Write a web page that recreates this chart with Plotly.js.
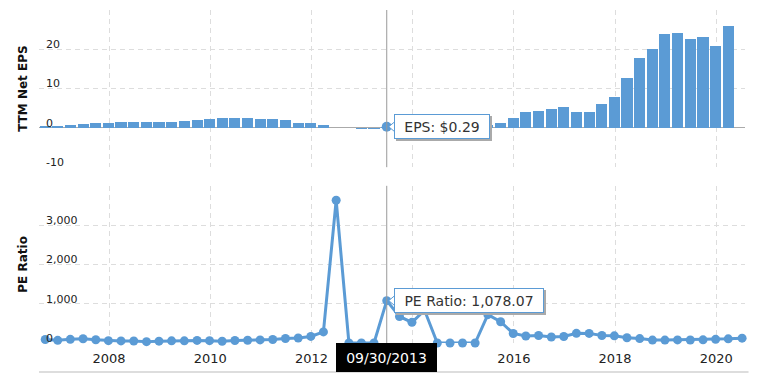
<!DOCTYPE html>
<html>
<head>
<meta charset="utf-8">
<script src="https://cdn.plot.ly/plotly-3.0.1.min.js"></script>
<style>html,body{margin:0;padding:0;background:#fff;}#chart{width:765px;height:373px;}</style>
</head>
<body>
<div id="chart"></div>
<script>
// Quarter-end dates of the TTM EPS bars
const epsDates = [
  '2006-12-31',
  '2007-03-31','2007-06-30','2007-09-30','2007-12-31',
  '2008-03-31','2008-06-30','2008-09-30','2008-12-31',
  '2009-03-31','2009-06-30','2009-09-30','2009-12-31',
  '2010-03-31','2010-06-30','2010-09-30','2010-12-31',
  '2011-03-31','2011-06-30','2011-09-30','2011-12-31',
  '2012-03-31','2012-06-30','2012-09-30','2012-12-31',
  '2013-03-31','2013-06-30','2013-09-30','2013-12-31',
  '2014-03-31','2014-06-30','2014-09-30','2014-12-31',
  '2015-03-31','2015-06-30','2015-09-30','2015-12-31',
  '2016-03-31','2016-06-30','2016-09-30','2016-12-31',
  '2017-03-31','2017-06-30','2017-09-30','2017-12-31',
  '2018-03-31','2018-06-30','2018-09-30','2018-12-31',
  '2019-03-31','2019-06-30','2019-09-30','2019-12-31',
  '2020-03-31','2020-06-30'
];
// TTM Net EPS values
const epsValues = [
  0.45,
  0.59, 0.73, 0.87, 1.12,
  1.20, 1.38, 1.46, 1.49,
  1.56, 1.51, 1.69, 2.04,
  2.29, 2.42, 2.48, 2.53,
  2.31, 2.27, 1.90, 1.37,
  1.21, 0.81, 0.07, -0.09,
  -0.19, -0.22, 0.29, 0.59,
  0.64, 0.39, -0.47, -0.52,
  -0.87, -0.41, 0.71, 1.25,
  2.44, 4.03, 4.38, 4.90,
  5.31, 3.93, 3.93, 6.15,
  7.94, 12.61, 17.84, 20.14,
  23.96, 24.11, 22.59, 23.01,
  20.93, 26.01
];
// PE ratio: same quarters plus the latest date
const latestDate = '2020-10-08';
const peDates = epsDates.concat([latestDate]);
const peValues = [
  87.69,
  67.44, 93.71, 107.07, 82.71,
  59.42, 53.14, 49.84, 34.42,
  47.08, 55.40, 55.24, 65.94,
  59.29, 45.15, 63.33, 71.15,
  77.98, 90.08, 113.81, 126.35,
  167.36, 281.91, 3633.14, 0,
  0, 0, 1078.07, 675.92,
  525.58, 832.77, 0, 0,
  0, 0, 720.97, 540.71,
  243.30, 177.57, 191.17, 153.03,
  166.96, 246.31, 244.62, 190.16,
  182.28, 134.80, 112.28, 74.58,
  74.32, 78.54, 76.85, 80.31,
  93.16, 106.07,
  122.86
];
// Axis ticks
const xTickVals = ['2008-04-05','2010-04-05','2012-04-05','2014-04-05','2016-04-05','2018-04-05','2020-04-05'];
const xTickText = ['2008','2010','2012','2014','2016','2018','2020'];
const epsTickVals = [-10, 0, 10, 20, 30];
const epsTickText = ['-10', '0', '10', '20', ''];
const peTickVals = [0, 1000, 2000, 3000, 4000];
const peTickText = ['0', '1,000', '2,000', '3,000', ''];
// Highlighted (hovered) quarter
const hoverDate = '2013-09-30';

const BLUE = '#5b9bd5';
const GRID = '#dddddd';
const DASH = '5px,4px';
const FONT = 'DejaVu Sans, Verdana, sans-serif';
const DAY = 86400000;

const hi = epsDates.indexOf(hoverDate);
const hiEps = epsValues[hi];
const hiPe = peValues[peDates.indexOf(hoverDate)];
const dp = hoverDate.split('-');
const dateLabel = dp[1] + '/' + dp[2] + '/' + dp[0];
const peLabel = 'PE Ratio: ' + hiPe.toLocaleString('en-US', {minimumFractionDigits: 2, maximumFractionDigits: 2});
const epsLabel = 'EPS: $' + hiEps.toFixed(2);

const traces = [
  {type: 'bar', x: epsDates, y: epsValues, xaxis: 'x', yaxis: 'y',
   marker: {color: BLUE, line: {width: 0}}, width: 80 * DAY, hoverinfo: 'skip'},
  {type: 'scatter', mode: 'markers', x: [hoverDate], y: [hiEps], xaxis: 'x', yaxis: 'y',
   marker: {color: BLUE, size: 10}, cliponaxis: false, hoverinfo: 'skip'},
  {type: 'scatter', mode: 'lines+markers', x: peDates, y: peValues, xaxis: 'x2', yaxis: 'y2',
   line: {color: BLUE, width: 3}, marker: {color: BLUE, size: 9}, cliponaxis: false, hoverinfo: 'skip'}
];

const xCommon = {
  type: 'date', range: ['2006-11-16', '2020-10-29'],
  tickmode: 'array', tickvals: xTickVals, ticktext: xTickText,
  showgrid: true, gridcolor: GRID, griddash: DASH, gridwidth: 1,
  zeroline: false, showline: false, ticks: '', fixedrange: true
};

function tip(xref, yref, yv, text, w, shadow) {
  return {
    xref: xref, yref: yref, x: hoverDate, y: yv, xanchor: 'left', yanchor: 'middle',
    xshift: shadow ? 9 : 7, yshift: shadow ? -2 : 0, showarrow: false,
    text: text, align: 'center', width: w, height: 18, borderpad: 2.5,
    borderwidth: 1, bordercolor: shadow ? '#aaaaaa' : BLUE,
    bgcolor: shadow ? '#aaaaaa' : '#ffffff',
    font: {family: FONT, size: 14, color: shadow ? 'rgba(0,0,0,0)' : '#333333'}
  };
}

function notch(xref, yref, yv) {
  return {type: 'path', xref: xref, yref: yref, xsizemode: 'pixel', ysizemode: 'pixel',
    xanchor: hoverDate, yanchor: yv, path: 'M 8,-5 L 2,0 L 8,5 Z',
    fillcolor: '#ffffff', line: {color: BLUE, width: 1}, layer: 'above'};
}

const yCommon = {
  tickmode: 'array', ticklabelposition: 'inside', ticklabelshift: -5, ticklabelstandoff: 4,
  ticklabeloverflow: 'allow', ticks: '',
  tickfont: {family: FONT, size: 11, color: '#222222'},
  showgrid: true, gridcolor: GRID, griddash: DASH, showline: false, fixedrange: true
};

const layout = {
  width: 765, height: 373,
  margin: {l: 39, r: 20, t: 10, b: 30},
  paper_bgcolor: '#ffffff', plot_bgcolor: '#ffffff',
  showlegend: false, hovermode: false, bargap: 0,
  font: {family: FONT, color: '#333333'},
  xaxis: Object.assign({}, xCommon, {anchor: 'y', showticklabels: false}),
  xaxis2: Object.assign({}, xCommon, {anchor: 'y2', matches: 'x', showticklabels: true,
    ticklabelstandoff: 6, tickfont: {family: FONT, size: 13, color: '#222222'}}),
  yaxis: Object.assign({}, yCommon, {
    domain: [0.528, 1], range: [-10, 30], tickvals: epsTickVals, ticktext: epsTickText,
    zeroline: true, zerolinecolor: '#aaaaaa', zerolinewidth: 1,
    title: {text: 'TTM Net EPS', standoff: 15, font: {family: FONT, size: 12, color: '#111111', weight: 'bold'}}
  }),
  yaxis2: Object.assign({}, yCommon, {
    domain: [0, 0.472], range: [0, 4000], tickvals: peTickVals, ticktext: peTickText,
    zeroline: false,
    title: {text: 'PE Ratio', standoff: 15, font: {family: FONT, size: 12, color: '#111111', weight: 'bold'}}
  }),
  shapes: [
    {type: 'line', xref: 'x', yref: 'y domain', x0: hoverDate, x1: hoverDate, y0: 0, y1: 1,
     line: {color: '#999999', width: 1}, layer: 'above'},
    {type: 'line', xref: 'x2', yref: 'y2 domain', x0: hoverDate, x1: hoverDate, y0: 0, y1: 1,
     line: {color: '#999999', width: 1}, layer: 'above'},
    {type: 'line', xref: 'paper', yref: 'paper', ysizemode: 'pixel', yanchor: 0,
     x0: 0, x1: 1.005, y0: -29, y1: -29, line: {color: '#dddddd', width: 2}},
    notch('x', 'y', hiEps),
    notch('x2', 'y2', hiPe)
  ],
  annotations: [
    tip('x', 'y', hiEps, epsLabel, 89, true),
    tip('x', 'y', hiEps, epsLabel, 89, false),
    tip('x2', 'y2', hiPe, peLabel, 143, true),
    tip('x2', 'y2', hiPe, peLabel, 143, false),
    {xref: 'x2', yref: 'paper', x: hoverDate, y: 0, xanchor: 'center', yanchor: 'top',
     showarrow: false, text: dateLabel, width: 101, height: 29, borderpad: 0, borderwidth: 0,
     bgcolor: '#000000', font: {family: FONT, size: 14, color: '#ffffff'}}
  ]
};

Plotly.newPlot('chart', traces, layout, {staticPlot: true, displayModeBar: false});
</script>
</body>
</html>
